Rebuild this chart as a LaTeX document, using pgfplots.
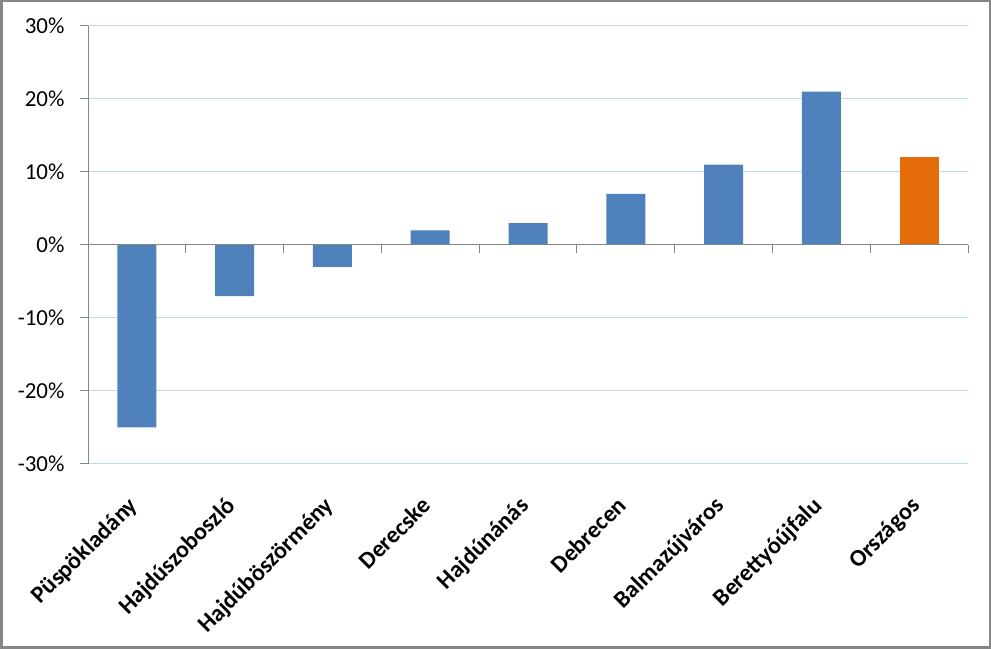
\documentclass[border=0pt]{standalone}
\usepackage{fontspec}
\setmainfont{Carlito}
\usepackage{pgfplots}
\pgfplotsset{compat=1.18}
\definecolor{barblue}{HTML}{4F81BD}
\definecolor{barorange}{HTML}{E46C0A}
\definecolor{gridblue}{HTML}{B7DDE8}
\definecolor{axisgray}{HTML}{868686}
\begin{document}
\begin{tikzpicture}[x=1bp,y=1bp]
\draw[draw=axisgray, line width=2.5bp] (1.25,1.25) rectangle (989.75,647.75);
\begin{axis}[
  at={(88bp,185bp)}, anchor=south west,
  width=880bp, height=438bp, scale only axis,
  xmin=-0.5, xmax=8.5, ymin=-30, ymax=30,
  axis line style={draw=none},
  ytick={-30,-20,...,30},
  yticklabel={\pgfmathprintnumber{\tick}\%},
  ymajorgrids, grid style={gridblue, line width=1bp},
  ytick pos=left, ytick align=outside, major tick length=8bp,
  y tick style={axisgray, line width=1bp},
  xtick={0,...,8},
  xticklabels={Püspökladány,Hajdúszoboszló,Hajdúböszörmény,Derecske,Hajdúnánás,Debrecen,Balmazújváros,Berettyóújfalu,Országos},
  x tick style={draw=none}, xtick pos=bottom,
  xticklabel style={xshift=2bp, yshift=-35bp, rotate=45, anchor=base east, inner sep=0pt, font=\bfseries\fontsize{24}{28}\selectfont},
  yticklabel style={xshift=-12bp, font=\fontsize{23}{28}\selectfont},
  /pgf/number format/assume math mode=true,
  ybar, bar width=39bp, bar shift=0pt,
  clip=false,
]
\addplot[fill=barblue, draw=none] coordinates {(0,-25) (1,-7) (2,-3) (3,2) (4,3) (5,7) (6,11) (7,21)};
\addplot[fill=barorange, draw=none] coordinates {(8,12)};
\draw[axisgray, line width=1bp] (axis cs:-0.5,0) -- (axis cs:8.5,0);
\pgfplotsinvokeforeach{0.5,1.5,2.5,3.5,4.5,5.5,6.5,7.5,8.5}{
  \draw[axisgray, line width=1bp] (axis cs:#1,0) -- ([yshift=-8bp]axis cs:#1,0);
}
\draw[axisgray, line width=1bp] (rel axis cs:0,0) -- (rel axis cs:0,1);
\end{axis}
\end{tikzpicture}
\end{document}
